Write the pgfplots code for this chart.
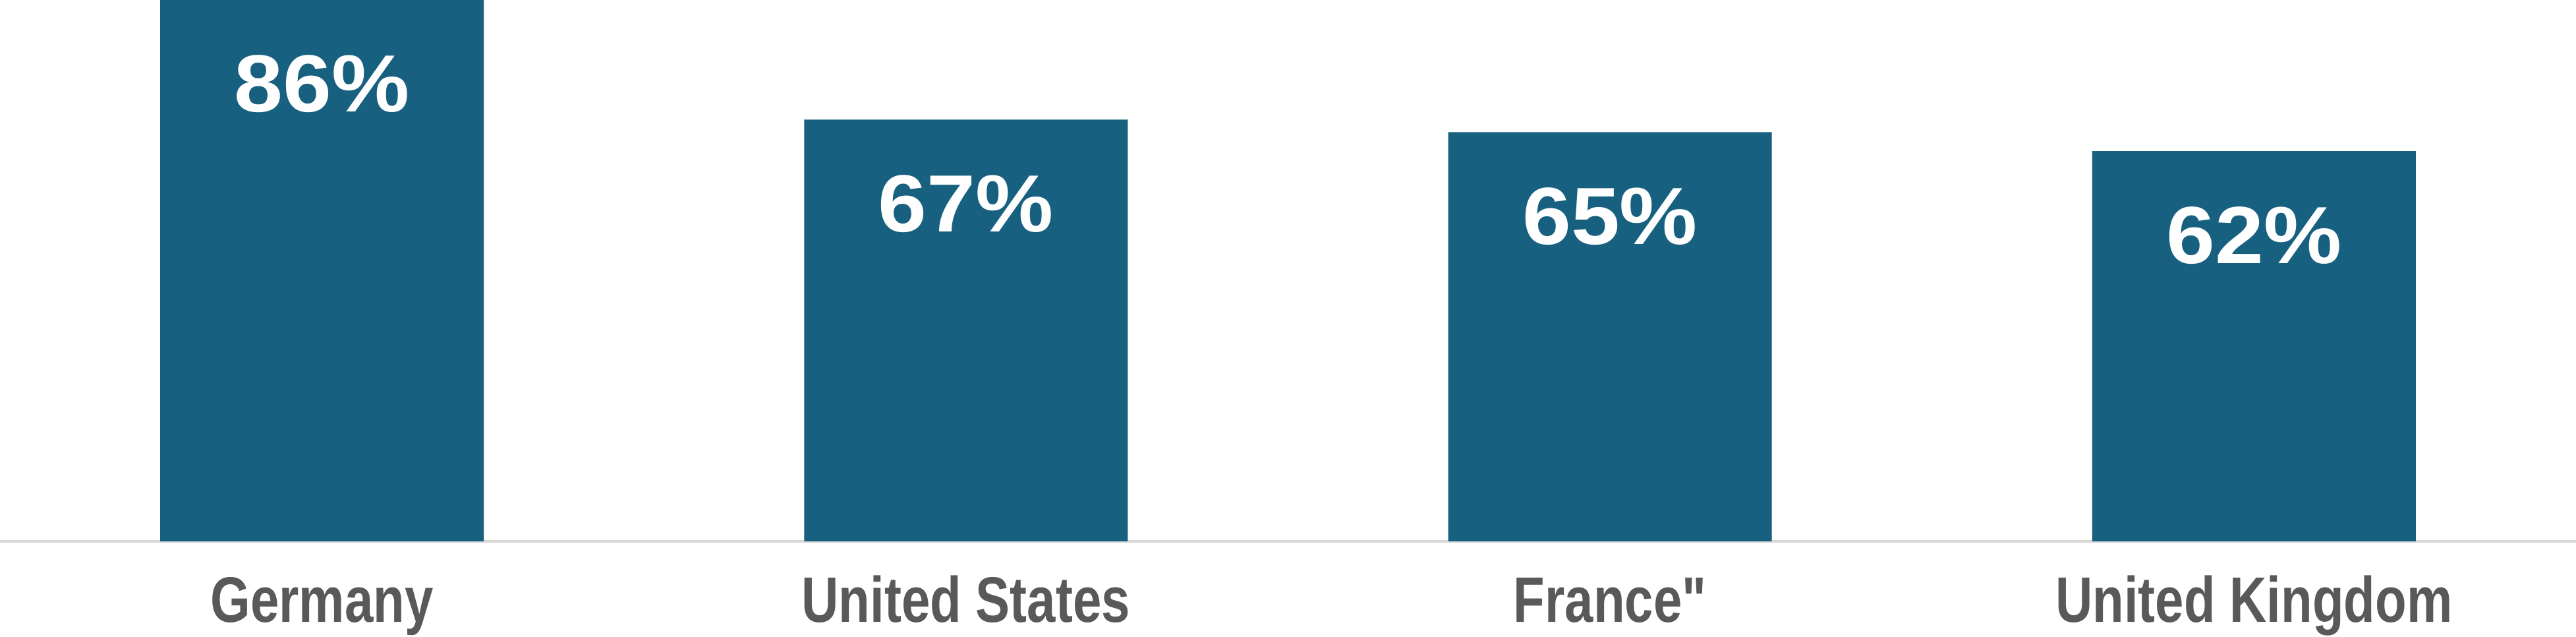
\documentclass[border=0pt]{standalone}
\usepackage{graphicx}
\usepackage{fontspec}
\setmainfont{Liberation Sans}[Ligatures=TeXOff]
\usepackage{pgfplots}
\pgfplotsset{compat=1.18}

\definecolor{barblue}{RGB}{24,96,128}
\definecolor{labelgray}{RGB}{89,89,89}
\definecolor{axisgray}{RGB}{217,217,217}

\newcommand\narrow[1]{\scalebox{0.8}[1]{#1}}

\begin{document}
\begin{tikzpicture}
\begin{axis}[
	scale only axis,
	width=781.8pt, height=164.2pt,
	xmin=-0.5, xmax=3.5,
	ymin=0, ymax=86,
	ybar, bar width=98.2pt,
	axis x line*=bottom,
	x axis line style={draw=axisgray, line width=0.75pt, -},
	hide y axis,
	xtick=data,
	xticklabels={\narrow{Germany}, \narrow{United States}, \narrow{France"}, \narrow{United Kingdom}},
	major tick length=0pt,
	xticklabel style={anchor=base, yshift=-24.5pt, text=labelgray,
		font=\fontsize{19.5}{24}\selectfont\bfseries},
	/pgf/number format/assume math mode=true,
	nodes near coords={\scalebox{1.08}[1]{\pgfmathprintnumber{\pgfplotspointmeta}\%}},
	every node near coord/.append style={anchor=base, yshift=-34pt, text=white,
		font=\fontsize{24.6}{28}\selectfont\bfseries},
	clip=false,
]
\addplot[fill=barblue, draw=none] coordinates {(0,86) (1,67) (2,65) (3,62)};
\end{axis}
\pgfresetboundingbox
\useasboundingbox (current axis.north west) rectangle ([yshift=-28.9pt]current axis.south east);
\end{tikzpicture}
\end{document}
